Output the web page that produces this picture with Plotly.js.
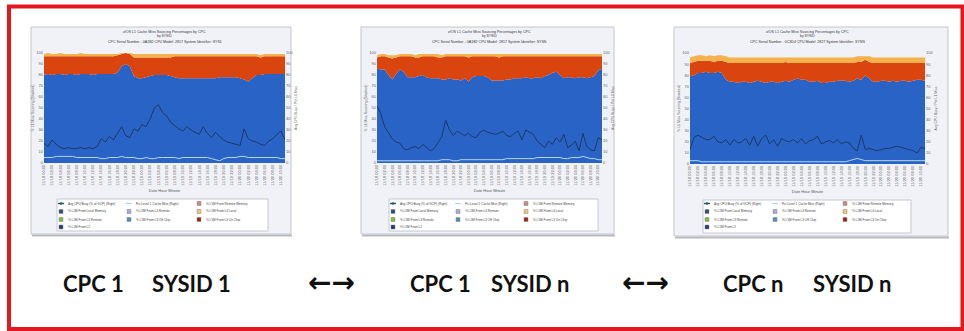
<!DOCTYPE html>
<html><head><meta charset="utf-8">
<script src="https://cdn.plot.ly/plotly-3.0.1.min.js"></script>
<style>html,body{margin:0;padding:0;background:#fff}#chart{width:964px;height:331px}</style>
</head><body><div id="chart"></div>
<script>
// ---------- DATA ----------
const times = ["11/18 00:00","11/18 02:00","11/18 04:00","11/18 06:00","11/18 08:00","11/18 10:00","11/18 12:00","11/18 14:00","11/18 16:00","11/18 18:00","11/18 20:00","11/18 22:00","11/19 00:00","11/19 02:00","11/19 04:00","11/19 06:00","11/19 08:00","11/19 10:00","11/19 12:00","11/19 14:00","11/19 16:00","11/19 18:00","11/19 20:00","11/19 22:00","11/20 00:00","11/20 02:00","11/20 04:00","11/20 06:00","11/20 08:00","11/20 10:00"];

const c1Blue = [80,81,80,81,81,80,81,81,80,81, 81,81,80,81,81,81,81,81,82,88, 90,88,79,77,77,78,79,80,80,80, 80,79,78,77,77,77,77,77,77,77, 77,77,77,78,78,78,78,78,77,76, 74,77,80,80,81,81,81,81,81,81];
const c1Red = [17,16,17,16,16,17,16,16,17,16, 16,16,17,16,16,16,16,16,16,11, 10,11,17,19,19,18,17,16,16,16, 16,17,19,20,20,20,20,20,20,20, 20,20,20,19,19,19,19,19,20,21, 23,20,17,16,16,16,16,16,16,16];
const c1Orange = [2,3,2,2,3,2,2,2,2,3, 2,2,2,2,2,2,2,2,1,1, 0,1,3,3,3,3,3,3,3,3, 3,3,2,2,2,2,2,2,2,2, 2,2,2,2,2,2,2,2,2,2, 2,2,2,2,2,2,2,2,2,2];
const c1Busy = [18,15,21,17,14,13,14,13,13,14, 13,14,13,15,22,19,24,21,27,33, 25,23,31,29,35,33,40,50,53,46, 43,37,34,31,29,33,30,28,26,33, 27,23,28,24,21,19,18,17,16,31, 22,20,19,17,16,20,22,26,29,21];
const c1Miss = [5,5,5,6,6,6,6,6,5,5, 5,5,5,5,4,4,5,5,5,6, 5,5,5,4,4,5,4,4,5,5, 5,5,5,4,5,5,5,5,5,5, 5,4,3,2,4,5,5,5,6,6, 5,5,5,5,5,5,5,5,4,4];

const c2Blue = [86,85,85,80,76,81,85,83,78,78, 78,79,80,78,77,77,77,76,76,77, 76,76,75,77,74,78,79,79,79,78, 75,75,75,75,76,76,77,77,77,78, 77,77,78,77,79,80,82,83,80,77, 78,78,77,78,78,77,78,79,84,86];
const c2Red = [10,12,12,16,19,15,12,14,19,19, 18,17,17,19,20,20,19,20,21,20, 21,21,22,20,22,19,18,18,18,19, 22,22,21,22,21,21,20,20,20,19, 20,20,19,20,18,17,15,14,17,20, 19,19,20,19,19,20,19,18,13,11];
const c2Orange = [2,2,2,2,3,2,2,2,2,2, 2,3,2,2,2,2,3,2,2,2, 2,2,2,2,3,2,2,2,2,2, 2,2,3,2,2,2,2,2,2,2, 2,2,2,2,2,2,2,2,2,2, 2,2,2,2,2,2,2,2,2,2];
const c2Busy = [52,45,33,27,22,19,18,13,12,14, 15,13,17,14,11,13,18,24,39,30, 25,29,27,25,27,24,23,28,30,28, 27,26,27,29,25,24,27,29,21,30, 28,26,20,17,14,20,17,23,19,26, 14,16,20,11,27,15,12,11,23,21];
const c2Miss = [2,2,2,2,2,2,2,2,2,2, 2,2,2,2,2,2,2,3,3,3, 2,2,3,3,3,3,3,3,3,3, 3,3,3,3,4,4,4,4,4,4, 4,4,5,5,5,5,5,5,5,4, 4,5,5,5,6,5,4,4,3,3];

const c3Blue = [79,80,82,82,83,82,82,83,82,76, 74,74,73,74,74,73,74,75,74,73, 74,74,73,74,75,74,76,77,76,76, 74,74,75,73,73,74,74,75,75,75, 74,75,77,76,80,77,74,74,75,75, 74,75,74,75,75,74,75,76,76,75];
const c3Red = [12,12,11,11,10,11,10,10,11,16, 17,17,18,17,17,18,17,16,17,18, 17,17,18,17,17,17,15,14,15,15, 17,17,16,18,18,17,17,16,16,16, 17,16,15,16,14,15,17,17,16,16, 17,16,17,16,16,17,16,15,15,16];
const c3Orange = [5,5,5,5,4,5,5,5,5,5, 5,5,5,5,5,5,5,5,5,5, 5,5,5,5,4,5,5,5,5,5, 5,5,5,5,5,5,5,5,5,5, 5,5,5,5,3,5,5,5,5,5, 5,5,5,5,5,5,5,5,5,5];
const c3Busy = [13,24,26,24,22,22,25,20,19,22, 17,22,19,20,23,17,25,16,23,26, 18,22,16,23,21,20,22,19,23,18, 21,22,25,18,20,21,19,22,18,20, 19,14,12,26,13,14,13,12,13,14, 14,15,16,15,14,13,12,10,15,14];
const c3Miss = [3,3,3,2,2,2,2,2,2,2, 2,2,2,2,2,2,2,2,2,2, 2,2,2,2,2,2,2,2,2,2, 2,2,2,2,2,2,2,2,2,2, 3,4,5,4,3,3,3,3,3,3, 3,3,3,3,3,3,3,3,3,3];

const legendNames = ["Avg CPU Busy (% of GCP) (Right)","Pct Level 1 Cache Miss (Right)","% L1M From Remote Memory","% L1M From Local Memory","% L1M From L4 Remote","% L1M From L4 Local","% L1M From L3 Remote","% L1M From L3 Off Chip","% L1M From L3 On Chip","% L1M From L2"];
const legendColors = ["#245a6e","#9cc4de","#c58a80","#2c4e6a","#a9a9d2","#f3c275","#7cbf3e","#4f8fa8","#a3200f","#1f377f"];
const legendKinds = ["line","thin","box","box","box","box","box","box","box","box"];

const chartTitles = ["z/OS L1 Cache Miss Sourcing Percentages by CPC","z/OS L1 Cache Miss Sourcing Percentages by CPC","z/OS L1 Cache Miss Sourcing Percentages by CPC"];
const chartSub = ["by SYSID","by SYSID","by SYSID"];
const chartIds = ["CPC Serial Number - 0A1B2 CPU Model: 2817 System Identifier: SYS1","CPC Serial Number - 0A1B2 CPU Model: 2817 System Identifier: SYSN","CPC Serial Number - 0C3D4 CPU Model: 2827 System Identifier: SYSN"];
const xTitle = "Date Hour Minute";
const yLeftTitle = "% L1 Miss Sourcing (Stacked)";
const yRightTitle = "Avg CPU Busy / Pct L1 Miss";

const captions = ["CPC 1","SYSID 1","CPC 1","SYSID n","CPC n","SYSID n"];
const arrowText = "\u2190\u2192";

// ---------- STYLE / GEOMETRY ----------
const W = 964, H = 331;
const px = v => v / W, py = v => 1 - v / H;
const colBlue = "#2963c5", colRed = "#d9440f", colOrange = "#f4b24c", colTop = "#f3cdb4";
const colBusy = "#1c3a6a", colMiss = "#b6d7ef";

const panels = [
  {frame:[31,27,291,234], plot:[44,285,53,163], leg:[57,199,268,231], cols:[61,129,199]},
  {frame:[361,27,614,234], plot:[377,602,53,163], leg:[389,199,598,231], cols:[393,458,526]},
  {frame:[674,27,948,236], plot:[690,925,53,164], leg:[703,200,911,233], cols:[707,775,845]}
];
const legRows = [203.5,211.5,219.5,227];

const series = [
  {blue:c1Blue, red:c1Red, orange:c1Orange, busy:c1Busy, miss:c1Miss},
  {blue:c2Blue, red:c2Red, orange:c2Orange, busy:c2Busy, miss:c2Miss},
  {blue:c3Blue, red:c3Red, orange:c3Orange, busy:c3Busy, miss:c3Miss}
];

const traces = [];
const layout = {
  width: W, height: H, margin:{l:0,r:0,t:0,b:0,pad:0},
  paper_bgcolor:"#ffffff", plot_bgcolor: colTop, showlegend:false,
  hovermode:false, shapes:[], annotations:[],
  font:{family:"Liberation Sans, Arial, sans-serif"}
};
const tinyFont = {size:4, color:"#666", family:"Liberation Sans, Arial, sans-serif"};

series.forEach((s, k) => {
  const p = panels[k];
  const n = s.blue.length;
  const xs = s.blue.map((_, i) => i);
  const xa = k === 0 ? "x" : "x" + (k + 1);
  const yl = "y" + (2 * k + 1 === 1 ? "" : (2 * k + 1));
  const yr = "y" + (2 * k + 2);
  const xKey = "xaxis" + (k === 0 ? "" : k + 1);
  const ylKey = "yaxis" + (k === 0 ? "" : (2 * k + 1));
  const yrKey = "yaxis" + (2 * k + 2);
  const sg = "stack" + k;
  [[s.blue, colBlue],[s.red, colRed],[s.orange, colOrange]].forEach(([v, c]) => {
    traces.push({type:"scatter", x:xs, y:v, xaxis:xa, yaxis:yl, stackgroup:sg,
      mode:"none", fillcolor:c, line:{width:0}});
  });
  traces.push({type:"scatter", x:xs, y:s.miss, xaxis:xa, yaxis:yr, mode:"lines",
    line:{color:colMiss, width:1}});
  traces.push({type:"scatter", x:xs, y:s.busy, xaxis:xa, yaxis:yr, mode:"lines",
    line:{color:colBusy, width:1}});

  const tv = times.map((_, i) => i * 2);
  layout[xKey] = {domain:[px(p.plot[0]), px(p.plot[1])], anchor:yl, range:[0, n - 1],
    tickmode:"array", tickvals:tv, ticktext:times, tickangle:-90, tickfont:tinyFont,
    showgrid:false, zeroline:false, showline:false, ticks:"", automargin:false,
    title:{text:xTitle, font:{size:4, color:"#555"}, standoff:4}};
  const yDom = [py(p.plot[3]), py(p.plot[2])];
  layout[ylKey] = {domain:yDom, anchor:xa, range:[0,100], dtick:10, tickfont:tinyFont,
    showgrid:false, zeroline:false, showline:false, ticks:"", automargin:false,
    title:{text:yLeftTitle, font:{size:3.5, color:"#666"}, standoff:2}};
  layout[yrKey] = {domain:yDom, anchor:xa, overlaying:yl, side:"right", range:[0,100], dtick:10,
    tickfont:tinyFont, showgrid:false, zeroline:false, showline:false, ticks:"", automargin:false,
    title:{text:yRightTitle, font:{size:3.5, color:"#666"}, standoff:2}};

  // frame
  layout.shapes.push({type:"rect", xref:"paper", yref:"paper", layer:"below",
    x0:px(p.frame[0]), x1:px(p.frame[2]), y0:py(p.frame[3]), y1:py(p.frame[1]),
    fillcolor:"#f1f2f7", line:{color:"#c4c5cd", width:1}});
  layout.shapes.push({type:"line", xref:"paper", yref:"paper", layer:"below",
    x0:px(p.frame[0] + 1), x1:px(p.frame[2] + 1), y0:py(p.frame[3] + 1.5), y1:py(p.frame[3] + 1.5),
    line:{color:"#b9b9c0", width:2}});
  // titles
  const cx = px((p.plot[0] + p.plot[1]) / 2);
  [[chartTitles[k], 32, 3.6],[chartSub[k], 36, 3.4],[chartIds[k], 42, 3.6]].forEach(([t, y, sz]) => {
    layout.annotations.push({text:t, xref:"paper", yref:"paper", x:cx, y:py(y),
      xanchor:"center", yanchor:"middle", showarrow:false, font:{size:sz, color:"#333"}});
  });
  // legend box
  layout.shapes.push({type:"rect", xref:"paper", yref:"paper",
    x0:px(p.leg[0]), x1:px(p.leg[2]), y0:py(p.leg[3]), y1:py(p.leg[1]),
    fillcolor:"#ffffff", line:{color:"#c8c8d0", width:1}});
  legendNames.forEach((name, j) => {
    const col = j % 3, row = Math.floor(j / 3);
    const lx = p.cols[col], ly = legRows[row];
    if (legendKinds[j] === "box") {
      layout.shapes.push({type:"rect", xref:"paper", yref:"paper",
        x0:px(lx - 2), x1:px(lx + 2), y0:py(ly + 2), y1:py(ly - 2),
        fillcolor:legendColors[j], line:{color:"#888", width:0.5}});
    } else {
      layout.shapes.push({type:"line", xref:"paper", yref:"paper",
        x0:px(lx - 3), x1:px(lx + 3), y0:py(ly), y1:py(ly),
        line:{color:legendColors[j], width:legendKinds[j] === "line" ? 1.5 : 0.8}});
      if (legendKinds[j] === "line") {
        layout.shapes.push({type:"circle", xref:"paper", yref:"paper",
          x0:px(lx - 1.2), x1:px(lx + 1.2), y0:py(ly + 1.2), y1:py(ly - 1.2),
          fillcolor:legendColors[j], line:{width:0}});
      }
    }
    layout.annotations.push({text:name, xref:"paper", yref:"paper", x:px(lx + 5), y:py(ly),
      xanchor:"left", yanchor:"middle", showarrow:false, font:{size:3.1, color:"#444"}});
  });
});

// red outer border
layout.shapes.push({type:"rect", xref:"paper", yref:"paper",
  x0:px(9), x1:px(962.5), y0:py(329), y1:py(6.5), line:{color:"#e3171d", width:4}});

// captions
const capX = [93, 191, 440, 530, 753, 852];
const capFont = {family:"Lato, sans-serif", size:22, color:"#111", weight:"bold"};
captions.forEach((t, i) => {
  layout.annotations.push({text:t, xref:"paper", yref:"paper", x:px(capX[i]), y:py(283),
    xanchor:"center", yanchor:"middle", showarrow:false, font:capFont});
});
[331, 645].forEach(x => {
  layout.annotations.push({text:arrowText, xref:"paper", yref:"paper", x:px(x), y:py(282),
    xanchor:"center", yanchor:"middle", showarrow:false,
    font:{family:"DejaVu Sans, sans-serif", size:28, color:"#111", weight:"bold"}});
});

Plotly.newPlot("chart", traces, layout, {staticPlot:true, displayModeBar:false});
</script></body></html>
